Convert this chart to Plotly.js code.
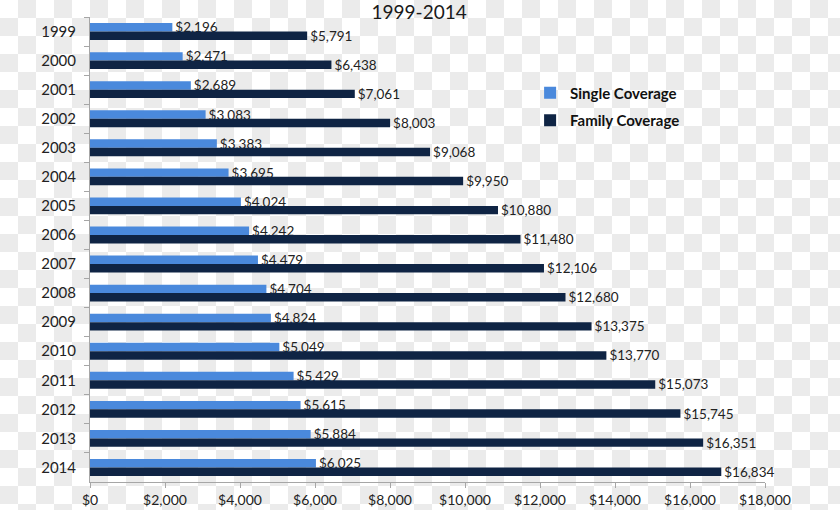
<!DOCTYPE html>
<html>
<head>
<meta charset="utf-8">
<script src="https://cdn.plot.ly/plotly-3.0.1.min.js"></script>
<style>
html, body { margin: 0; padding: 0; }
body {
  width: 840px; height: 510px; overflow: hidden;
  background: repeating-conic-gradient(#ebebeb 0 25%, #ffffff 0 50%) 0 0 / 36px 36px;
}
#chart { width: 840px; height: 510px; }
</style>
</head>
<body>
<div id="chart"></div>
<script>
const years = ['1999','2000','2001','2002','2003','2004','2005','2006','2007','2008','2009','2010','2011','2012','2013','2014'];
const singleCoverage = [2196, 2471, 2689, 3083, 3383, 3695, 4024, 4242, 4479, 4704, 4824, 5049, 5429, 5615, 5884, 6025];
const familyCoverage = [5791, 6438, 7061, 8003, 9068, 9950, 10880, 11480, 12106, 12680, 13375, 13770, 15073, 15745, 16351, 16834];
const seriesNames = ['Single Coverage', 'Family Coverage'];
const chartTitle = '1999-2014';

const fmt = v => '$' + v.toLocaleString('en-US');
const FONT = 'Lato, "Open Sans", sans-serif';
const labelFont = { family: FONT, size: 13.5, color: '#222' };

const traces = [
  {
    type: 'bar', orientation: 'h', name: seriesNames[0], legendgroup: 'a',
    y: years, x: singleCoverage,
    marker: { color: '#4a89dc' },
    text: singleCoverage.map(fmt), textposition: 'outside',
    textfont: labelFont, constraintext: 'none', cliponaxis: false,
    hoverinfo: 'skip'
  },
  {
    type: 'bar', orientation: 'h', name: seriesNames[1], legendgroup: 'b',
    y: years, x: familyCoverage,
    marker: { color: '#0f2444' },
    text: familyCoverage.map(fmt), textposition: 'outside',
    textfont: labelFont, constraintext: 'none', cliponaxis: false,
    hoverinfo: 'skip'
  }
];

const layout = {
  width: 840, height: 510,
  paper_bgcolor: 'rgba(0,0,0,0)', plot_bgcolor: 'rgba(0,0,0,0)',
  margin: { l: 90, r: 75, t: 17, b: 28 },
  barmode: 'group', bargap: 0.42, bargroupgap: 0,
  title: {
    text: chartTitle, x: 0.499, xanchor: 'center', xref: 'container',
    y: 0.976, yref: 'container', yanchor: 'middle',
    font: { family: FONT, size: 19, color: '#1a1a1a' }
  },
  xaxis: {
    range: [0, 18000], dtick: 2000, tick0: 0,
    tickprefix: '$', tickformat: ',d',
    showgrid: false, zeroline: false,
    showline: true, linecolor: '#a6a6a6', linewidth: 1,
    ticks: 'outside', ticklen: 5, tickcolor: '#a6a6a6',
    tickfont: { family: FONT, size: 14, color: '#222' },
    fixedrange: true
  },
  yaxis: {
    type: 'category', autorange: 'reversed',
    showgrid: false, zeroline: false,
    showline: true, linecolor: '#a6a6a6', linewidth: 1,
    ticks: 'outside', ticklen: 5, tickcolor: '#a6a6a6', tickson: 'boundaries',
    ticklabelstandoff: 10,
    tickfont: { family: FONT, size: 15, color: '#222' },
    fixedrange: true
  },
  legend: {
    x: 0.652, y: 0.872, xanchor: 'left', yanchor: 'top',
    bgcolor: 'rgba(0,0,0,0)', traceorder: 'grouped', tracegroupgap: 5, itemwidth: 30,
    font: { family: FONT, size: 15, color: '#111', weight: 'bold' }
  },
  showlegend: true
};

Plotly.newPlot('chart', traces, layout, { displayModeBar: false, staticPlot: true });
</script>
</body>
</html>
